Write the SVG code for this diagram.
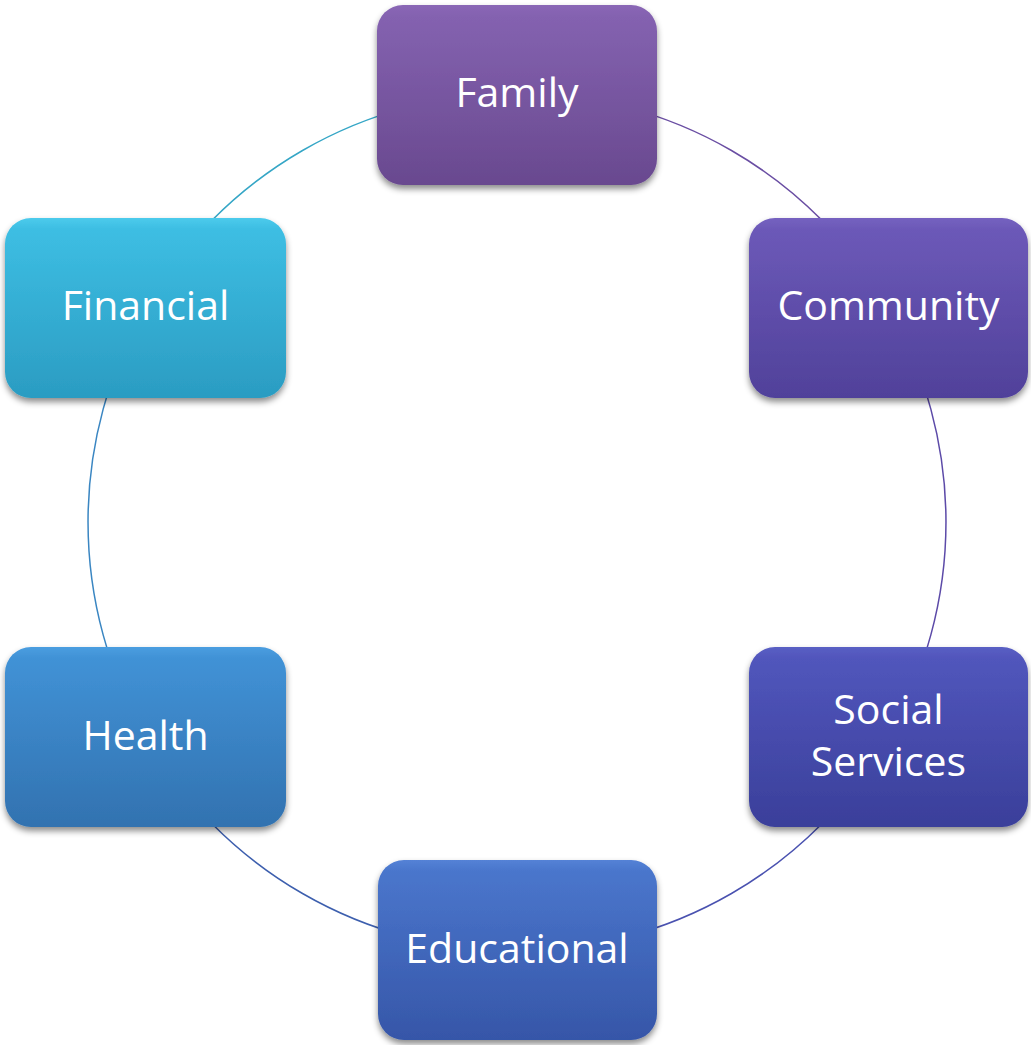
<svg xmlns="http://www.w3.org/2000/svg" width="1031" height="1045" viewBox="0 0 1031 1045">
<style>
.arc{fill:none;stroke-width:1.5}
.box{stroke:none}
.lbl{font-family:"Open Sans","Noto Sans",sans-serif;font-size:41px;fill:#fff;text-anchor:middle}
</style>
<defs>
<filter id="sh" x="-10%" y="-10%" width="120%" height="125%">
<feDropShadow dx="0" dy="4" stdDeviation="3" flood-color="#000" flood-opacity="0.45"/>
</filter>
<linearGradient id="gFam" x1="0" y1="0" x2="0" y2="1"><stop offset="0" stop-color="#8a67b6"/><stop offset="0.06" stop-color="#8462b0"/><stop offset="1" stop-color="#69498f"/></linearGradient>
<linearGradient id="gCom" x1="0" y1="0" x2="0" y2="1"><stop offset="0" stop-color="#7562c0"/><stop offset="0.06" stop-color="#6c59b8"/><stop offset="1" stop-color="#50419a"/></linearGradient>
<linearGradient id="gSoc" x1="0" y1="0" x2="0" y2="1"><stop offset="0" stop-color="#5a5fc4"/><stop offset="0.06" stop-color="#5156bc"/><stop offset="1" stop-color="#3a3f9a"/></linearGradient>
<linearGradient id="gEdu" x1="0" y1="0" x2="0" y2="1"><stop offset="0" stop-color="#5482d6"/><stop offset="0.06" stop-color="#4a76cc"/><stop offset="1" stop-color="#3656a8"/></linearGradient>
<linearGradient id="gHea" x1="0" y1="0" x2="0" y2="1"><stop offset="0" stop-color="#4a9ee0"/><stop offset="0.06" stop-color="#4192d6"/><stop offset="1" stop-color="#3272b0"/></linearGradient>
<linearGradient id="gFin" x1="0" y1="0" x2="0" y2="1"><stop offset="0" stop-color="#4ccbec"/><stop offset="0.06" stop-color="#3dbee3"/><stop offset="1" stop-color="#2b9cc2"/></linearGradient>
</defs>
<g id="connectors">
<path class="arc" stroke="#6a4ea3" d="M517,93 A429,429 0 0 1 888.5,307.5"/>
<path class="arc" stroke="#5c4aa8" d="M888.5,307.5 A429,429 0 0 1 888.5,736.5"/>
<path class="arc" stroke="#4a52b0" d="M888.5,736.5 A429,429 0 0 1 517,951"/>
<path class="arc" stroke="#3d5fae" d="M517,951 A429,429 0 0 1 145.5,736.5"/>
<path class="arc" stroke="#3a86c2" d="M145.5,736.5 A429,429 0 0 1 145.5,307.5"/>
<path class="arc" stroke="#35a6c6" d="M145.5,307.5 A429,429 0 0 1 517,93"/>
</g>
<g id="family"><rect class="box" filter="url(#sh)" x="377" y="5" width="280" height="180" rx="26" fill="url(#gFam)"/><text class="lbl" x="517" y="107">Family</text></g>
<g id="community"><rect class="box" filter="url(#sh)" x="749" y="218" width="279" height="180" rx="26" fill="url(#gCom)"/><text class="lbl" x="888.5" y="320">Community</text></g>
<g id="social-services"><rect class="box" filter="url(#sh)" x="749" y="647" width="279" height="180" rx="26" fill="url(#gSoc)"/><text class="lbl" x="888.5" y="724">Social</text><text class="lbl" x="888.5" y="776">Services</text></g>
<g id="educational"><rect class="box" filter="url(#sh)" x="378" y="860" width="279" height="180" rx="26" fill="url(#gEdu)"/><text class="lbl" x="517" y="963">Educational</text></g>
<g id="health"><rect class="box" filter="url(#sh)" x="5" y="647" width="281" height="180" rx="26" fill="url(#gHea)"/><text class="lbl" x="145.5" y="750">Health</text></g>
<g id="financial"><rect class="box" filter="url(#sh)" x="5" y="218" width="281" height="180" rx="26" fill="url(#gFin)"/><text class="lbl" x="145.5" y="320">Financial</text></g>
</svg>
